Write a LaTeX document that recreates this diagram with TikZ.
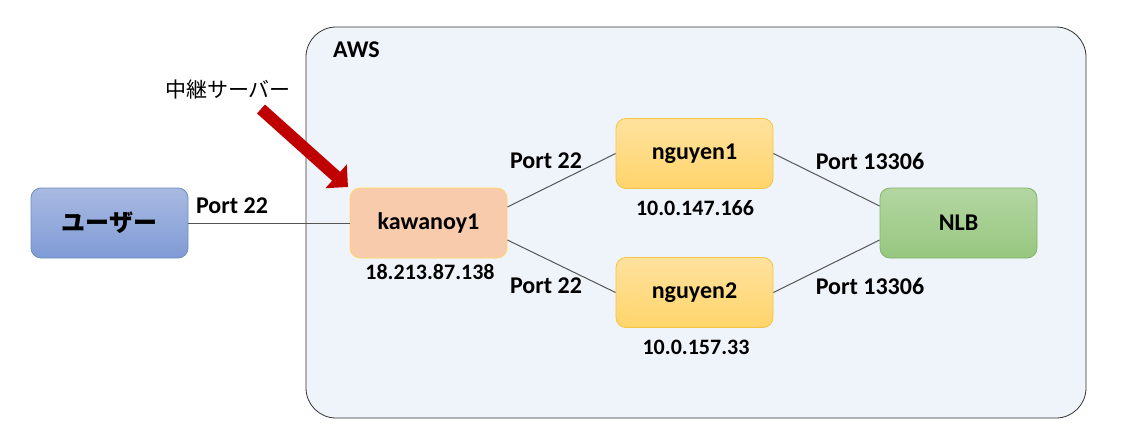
\documentclass[tikz,border=0pt]{standalone}
\usepackage{fontspec}
\setmainfont{Carlito}
\newfontfamily\jpfont{Noto Sans CJK JP}
\usetikzlibrary{arrows.meta}
\definecolor{awsfill}{HTML}{EFF4FB}
\definecolor{awsline}{HTML}{333333}
\definecolor{usertop}{HTML}{A9BAE2}
\definecolor{userbot}{HTML}{7F9BD5}
\definecolor{userline}{HTML}{6C8EBF}
\definecolor{kawafill}{HTML}{F8CBAD}
\definecolor{kawaline}{HTML}{FFD966}
\definecolor{ngtop}{HTML}{FFE29E}
\definecolor{ngbot}{HTML}{FFD46B}
\definecolor{ngline}{HTML}{F5C242}
\definecolor{nlbtop}{HTML}{B3D6A2}
\definecolor{nlbbot}{HTML}{97C77F}
\definecolor{nlbline}{HTML}{82B366}
\definecolor{arrowred}{HTML}{C00000}
\definecolor{conn}{HTML}{555555}
\tikzset{
  box/.style={rounded corners=10pt, minimum width=157pt, minimum height=70pt, line width=0.8pt, inner sep=0pt, font=\fontsize{24}{28}\selectfont\bfseries},
  lbl/.style={font=\fontsize{24}{28}\selectfont\bfseries, inner sep=0pt},
  iplbl/.style={font=\fontsize{22}{26}\selectfont\bfseries, inner sep=0pt},
  conline/.style={draw=conn, line width=1pt},
}
\begin{document}
\begin{tikzpicture}[x=1pt,y=-1pt]
\useasboundingbox (0,0) rectangle (1128,445);
% AWS region
\draw[fill=awsfill, draw=awsline, line width=0.8pt, rounded corners=30pt] (306,27) rectangle (1086,418);
\node[lbl, anchor=west] (aws) at (333,50) {AWS};
% nodes
\node[box, draw=userline, top color=usertop, bottom color=userbot] (user) at (109.5,223) {\jpfont\bfseries\fontsize{24}{28}\selectfont ユーザー};
\node[box, draw=kawaline, fill=kawafill] (kawa) at (428.5,223) {kawanoy1};
\node[box, draw=ngline, top color=ngtop, bottom color=ngbot] (ng1) at (694.5,153.5) {nguyen1};
\node[box, draw=ngline, top color=ngtop, bottom color=ngbot] (ng2) at (694.5,292.5) {nguyen2};
\node[box, draw=nlbline, top color=nlbtop, bottom color=nlbbot] (nlb) at (958.5,223) {NLB};
% ip labels
\node[iplbl] (ipk) at (430,272) {18.213.87.138};
\node[iplbl] (ip1) at (695,208) {10.0.147.166};
\node[iplbl] (ip2) at (696,347) {10.0.157.33};
% connectors
\draw[conline] (user.east) -- (kawa.west);
\draw[conline] ([yshift=16pt]kawa.east) -- (ng1.west);
\draw[conline] ([yshift=-17pt]kawa.east) -- (ng2.west);
\draw[conline] (ng1.east) -- ([yshift=17pt]nlb.west);
\draw[conline] (ng2.east) -- ([yshift=-17pt]nlb.west);
% port labels
\node[lbl] (p0) at (232,206) {Port 22};
\node[lbl] (p1) at (546,161) {Port 22};
\node[lbl] (p2) at (546,286) {Port 22};
\node[lbl] (p3) at (870,161) {Port 13306};
\node[lbl] (p4) at (870,286) {Port 13306};
% relay label and arrow
\node[inner sep=0pt, font=\jpfont\fontsize{21}{24}\selectfont] (relay) at (228,90) {中継サーバー};
\coordinate (as) at (261,109);
\coordinate (ae) at (348,187);
\draw[arrowred, line width=12pt, -{Triangle[length=16pt, width=31pt]}] (as) -- (ae);
\end{tikzpicture}
\end{document}
